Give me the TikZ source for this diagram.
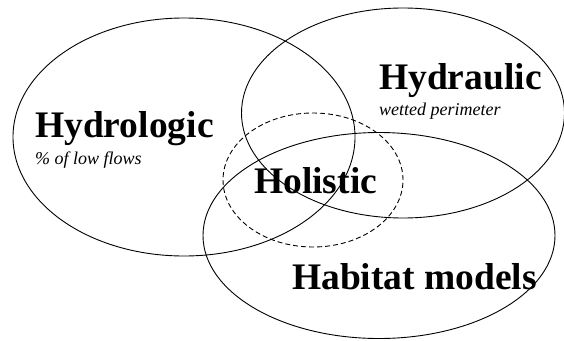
\documentclass[tikz,border=0pt]{standalone}
\usepackage{fontspec}
\setmainfont{Liberation Serif}
\usetikzlibrary{shapes.geometric}
\begin{document}
\begin{tikzpicture}[x=1pt,y=-1pt,
  ring/.style={draw=black, line width=0.9pt, ellipse, inner sep=0pt},
  title/.style={font=\bfseries\fontsize{37.5}{40}\selectfont, anchor=base west, inner sep=0pt},
  sub/.style={font=\itshape\fontsize{18}{20}\selectfont, anchor=base west, inner sep=0pt}]
\useasboundingbox (0,0) rectangle (564,340);
\node[title] (thydrologic) at (35,137) {Hydrologic};
\node[sub] (shydrologic) at (35,164) {\% of low flows};
\node[title] (thydraulic) at (379,89) {Hydraulic};
\node[sub] (shydraulic) at (379,115) {wetted perimeter};
\node[title] (tholistic) at (254,193) {Holistic};
\node[title] (thabitat) at (292,289) {Habitat models};
\node[ring, minimum width=342pt, minimum height=238pt] (ehydrologic) at (184,137) {};
\node[ring, minimum width=323pt, minimum height=210pt] (ehydraulic) at (403,113) {};
\node[ring, minimum width=352pt, minimum height=206pt] (ehabitat) at (379,235.5) {};
\node[ring, dashed, dash pattern=on 5pt off 3pt, minimum width=180pt, minimum height=134pt] (eholistic) at (313,180) {};
\end{tikzpicture}
\end{document}
